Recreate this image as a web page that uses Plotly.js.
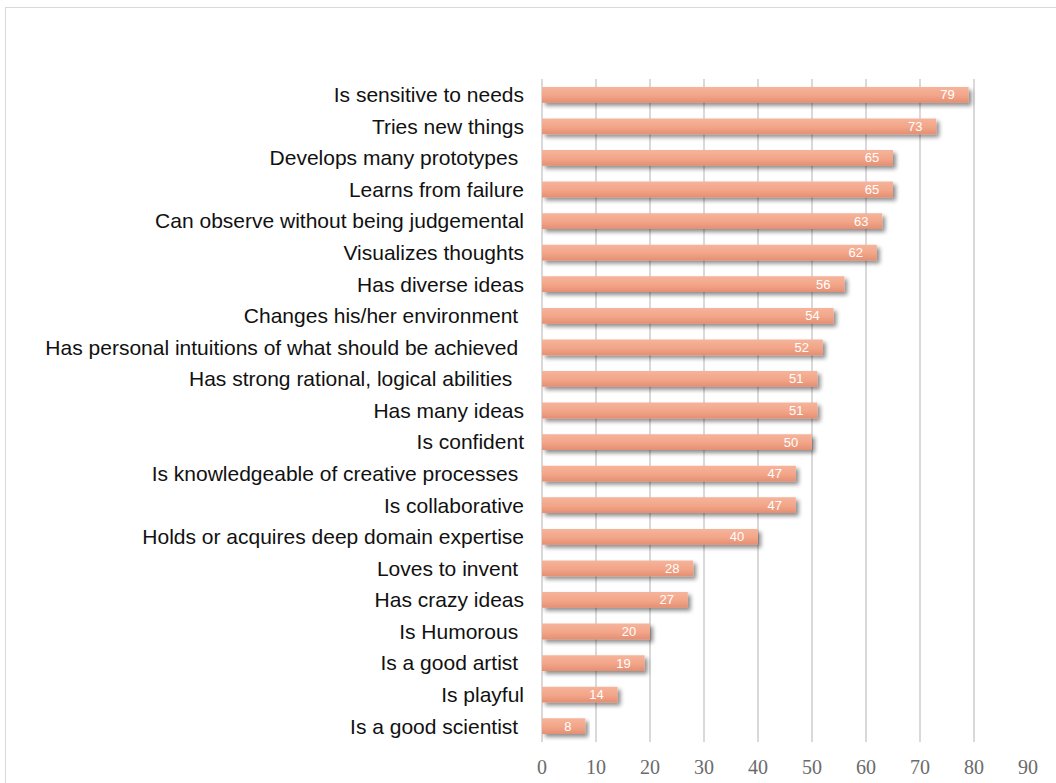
<!DOCTYPE html>
<html>
<head>
<meta charset="utf-8">
<script src="https://cdn.plot.ly/plotly-3.0.1.min.js"></script>
<style>
  html, body { margin: 0; padding: 0; background: #fff; overflow: hidden; }
  #chart { width: 1056px; height: 783px; position: absolute; left: 0; top: 0; }
  #frame { position: absolute; left: 5px; top: 7px; width: 1100px; height: 820px;
           border: 1.5px solid #d9d9d9; pointer-events: none; box-sizing: border-box; }
</style>
</head>
<body>
<div id="chart"></div>
<div id="frame"></div>
<script>
const NB = '\u00a0';
const categories = [
  'Is sensitive to needs',
  'Tries new things',
  'Develops many prototypes' + NB,
  'Learns from failure',
  'Can observe without being judgemental',
  'Visualizes thoughts',
  'Has diverse ideas',
  'Changes his/her environment' + NB,
  'Has personal intuitions of what should be achieved' + NB,
  'Has strong rational, logical abilities' + NB + NB,
  'Has many ideas',
  'Is confident',
  'Is knowledgeable of creative processes' + NB,
  'Is collaborative',
  'Holds or acquires deep domain expertise',
  'Loves to invent' + NB,
  'Has crazy ideas',
  'Is Humorous' + NB,
  'Is a good artist' + NB,
  'Is playful',
  'Is a good scientist' + NB
];
const values = [79, 73, 65, 65, 63, 62, 56, 54, 52, 51, 51, 50, 47, 47, 40, 28, 27, 20, 19, 14, 8];
const xTicks = [0, 10, 20, 30, 40, 50, 60, 70, 80, 90];

const trace = {
  type: 'bar',
  orientation: 'h',
  y: categories,
  x: values,
  width: 0.5,
  marker: { color: '#F0A285', line: { width: 0 } },
  text: values.map(v => String(v) + NB + NB + NB),
  textposition: 'inside',
  insidetextanchor: 'end',
  textangle: 0,
  constraintext: 'none',
  textfont: { family: 'Liberation Sans, Arial, sans-serif', size: 13, color: '#ffffff' },
  hoverinfo: 'none',
  cliponaxis: false
};

const layout = {
  width: 1056,
  height: 783,
  margin: { l: 542, r: 28, t: 79, b: 41, pad: 0 },
  paper_bgcolor: '#ffffff',
  plot_bgcolor: '#ffffff',
  showlegend: false,
  bargap: 0.5,
  xaxis: {
    range: [0, 90],
    tickvals: xTicks,
    ticktext: xTicks.map(String),
    showgrid: true,
    gridcolor: '#d9d9d9',
    gridwidth: 2,
    zeroline: true,
    zerolinecolor: '#d9d9d9',
    zerolinewidth: 2,
    showline: false,
    ticks: '',
    ticklabelstandoff: 11,
    tickfont: { family: 'Liberation Serif, DejaVu Serif, serif', size: 20, color: '#6b6b6b' },
    fixedrange: true
  },
  yaxis: {
    type: 'category',
    autorange: 'reversed',
    showgrid: false,
    zeroline: false,
    showline: false,
    ticks: '',
    ticklabelstandoff: 17,
    tickfont: { family: 'Liberation Sans, Arial, sans-serif', size: 21, color: '#111111' },
    automargin: false,
    fixedrange: true
  }
};

Plotly.newPlot('chart', [trace], layout, { staticPlot: true, displayModeBar: false }).then(() => {
  const svg = document.querySelector('#chart .main-svg');
  const ns = 'http://www.w3.org/2000/svg';
  let defs = svg.querySelector('defs');
  if (!defs) { defs = document.createElementNS(ns, 'defs'); svg.insertBefore(defs, svg.firstChild); }
  const grad = document.createElementNS(ns, 'linearGradient');
  grad.setAttribute('id', 'barGrad');
  grad.setAttribute('x1', '0'); grad.setAttribute('y1', '0');
  grad.setAttribute('x2', '0'); grad.setAttribute('y2', '1');
  [['0', '#F6B49B'], ['0.55', '#F2A588'], ['1', '#E58E72']].forEach(([o, c]) => {
    const s = document.createElementNS(ns, 'stop');
    s.setAttribute('offset', o); s.setAttribute('stop-color', c);
    grad.appendChild(s);
  });
  defs.appendChild(grad);
  const filt = document.createElementNS(ns, 'filter');
  filt.setAttribute('id', 'barShadow');
  filt.setAttribute('x', '-5%'); filt.setAttribute('y', '-30%');
  filt.setAttribute('width', '115%'); filt.setAttribute('height', '190%');
  filt.innerHTML = '<feGaussianBlur in="SourceAlpha" stdDeviation="2"/>' +
    '<feOffset dx="3" dy="3" result="ob"/>' +
    '<feComponentTransfer><feFuncA type="linear" slope="0.45"/></feComponentTransfer>' +
    '<feMerge><feMergeNode/><feMergeNode in="SourceGraphic"/></feMerge>';
  defs.appendChild(filt);
  document.querySelectorAll('#chart .bars .point path').forEach(p => {
    p.style.fill = 'url(#barGrad)';
    p.setAttribute('filter', 'url(#barShadow)');
  });
});
</script>
</body>
</html>
